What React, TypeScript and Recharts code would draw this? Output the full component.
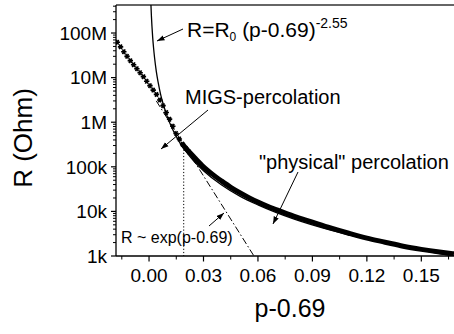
import React from 'react';
import { ComposedChart, Line, Scatter, XAxis, YAxis, ReferenceLine } from 'recharts';

// ---- measured data (x = p-0.69, R in Ohm) ----
const markerP = [-0.0175, -0.0157, -0.0139, -0.0121, -0.0103, -0.0085, -0.0067, -0.0049, -0.0031, -0.0013, 0.0005, 0.0023, 0.0041, 0.0059, 0.0077, 0.0095, 0.0113, 0.0131, 0.0149, 0.0167, 0.0185, 0.0203, 0.0221];
const markerR = [6.2e7, 4.9e7, 3.8e7, 3.0e7, 2.4e7, 1.95e7, 1.58e7, 1.29e7, 1.05e7, 8.3e6, 6.6e6, 5.25e6, 4.2e6, 3.15e6, 2.35e6, 1.65e6, 1.17e6, 8.1e5, 5.6e5, 4.2e5, 3.2e5, 2.6e5, 2.15e5];

const bandP = [0.018, 0.02, 0.025, 0.03, 0.035, 0.04, 0.045, 0.05, 0.055, 0.06, 0.065, 0.07, 0.08, 0.09, 0.1, 0.11, 0.12, 0.13, 0.14, 0.15, 0.16, 0.168];
const bandR = [3.39e5, 2.69e5, 1.62e5, 1.0e5, 6.76e4, 4.79e4, 3.47e4, 2.63e4, 2.04e4, 1.62e4, 1.32e4, 1.1e4, 7.76e3, 5.75e3, 4.27e3, 3.24e3, 2.51e3, 2.04e3, 1.66e3, 1.41e3, 1.23e3, 1.12e3];

// power-law fit R = R0 (p-0.69)^-2.55
const fitP = [0.00105, 0.0013, 0.0016, 0.002, 0.0025, 0.003, 0.004, 0.005, 0.0065, 0.008, 0.01, 0.0125, 0.015, 0.0175, 0.02, 0.025, 0.03, 0.04, 0.05, 0.06, 0.08, 0.1, 0.12, 0.14, 0.168];
const fitR = [4.25e8, 2.45e8, 1.44e8, 8.1e7, 4.6e7, 2.9e7, 1.38e7, 7.9e6, 4.0e6, 2.4e6, 1.35e6, 7.6e5, 4.8e5, 3.2e5, 2.3e5, 1.3e5, 8.2e4, 3.9e4, 2.2e4, 1.4e4, 6.7e3, 3.8e3, 2.4e3, 1.6e3, 1.0e3];

// exponential fit R ~ exp(p-0.69)
const expP = [0.004, 0.0578];
const expR = [3.0e6, 1.0e3];

// crossover marker (dotted)
const critP = [0.0191, 0.0191];
const critR = [3.4e5, 1.0e3];

// ---- axes ----
const X_DOMAIN = [-0.0182, 0.168];
const Y_DOMAIN = [1e3, 4.25e8];
const xMajor = [0, 0.03, 0.06, 0.09, 0.12, 0.15];
const xMajorLabels = ['0.00', '0.03', '0.06', '0.09', '0.12', '0.15'];
const xMinor = [-0.015, 0.015, 0.045, 0.075, 0.105, 0.135, 0.165];
const yMajor = [1e3, 1e4, 1e5, 1e6, 1e7, 1e8];
const yMajorLabels = ['1k', '10k', '100k', '1M', '10M', '100M'];
const yMinorMult = [2, 3, 4, 5, 6, 7, 8, 9];

const yMinor: number[] = [];
yMajor.forEach((d) => yMinorMult.forEach((m) => { if (m * d <= Y_DOMAIN[1]) yMinor.push(m * d); }));
const yTicks = [...yMajor, ...yMinor].sort((a, b) => a - b);
const xTicks = [...xMajor, ...xMinor].sort((a, b) => a - b);

const zip = (p: number[], r: number[]) => p.map((v, i) => ({ v, r: r[i] }));
const markerData = zip(markerP, markerR);
const bandData = zip(bandP, bandR);
const fitData = zip(fitP, fitR);
const expData = zip(expP, expR);
const critData = zip(critP, critR);

const FONT = '"Liberation Sans", Arial, Helvetica, sans-serif';

const YTick = (props: any) => {
  const { x, y, payload } = props;
  const idx = yMajor.indexOf(payload.value);
  if (idx < 0) {
    return <line x1={x} x2={x - 3} y1={y} y2={y} stroke="#000" strokeWidth={1} />;
  }
  return (
    <g>
      <line x1={x} x2={x - 5} y1={y} y2={y} stroke="#000" strokeWidth={1.2} />
      <text x={x - 9} y={y} dy="0.36em" textAnchor="end" fontSize={19} fontFamily={FONT} fill="#000">
        {yMajorLabels[idx]}
      </text>
    </g>
  );
};

const XTick = (props: any) => {
  const { x, y, payload } = props;
  const idx = xMajor.indexOf(payload.value);
  if (idx < 0) {
    return <line x1={x} x2={x} y1={y} y2={y + 3.5} stroke="#000" strokeWidth={1} />;
  }
  return (
    <g>
      <line x1={x} x2={x} y1={y} y2={y + 5.5} stroke="#000" strokeWidth={1.2} />
      <text x={x} y={y + 26} textAnchor="middle" fontSize={19} fontFamily={FONT} fill="#000">
        {xMajorLabels[idx]}
      </text>
    </g>
  );
};

const StarDot = (props: any) => {
  const { cx, cy } = props;
  if (cx == null || cy == null) return null;
  const r = 2.7;
  return (
    <path
      d={`M${cx - r},${cy}L${cx + r},${cy}M${cx - r * 0.5},${cy - r * 0.87}L${cx + r * 0.5},${cy + r * 0.87}M${cx + r * 0.5},${cy - r * 0.87}L${cx - r * 0.5},${cy + r * 0.87}`}
      stroke="#000"
      strokeWidth={1.6}
    />
  );
};

const Arrow = ({ x1, y1, x2, y2 }: { x1: number; y1: number; x2: number; y2: number }) => (
  <line x1={x1} y1={y1} x2={x2} y2={y2} stroke="#000" strokeWidth={1} markerEnd="url(#ah)" />
);

export default function App() {
  return (
    <div style={{ position: 'absolute', left: 0, top: 0, width: 454, height: 334, background: '#fff', overflow: 'hidden' }}>
      <ComposedChart width={454} height={334} margin={{ top: 5, right: 0, bottom: 0, left: 0 }}>
        <XAxis
          type="number"
          dataKey="v"
          domain={X_DOMAIN}
          allowDataOverflow
          ticks={xTicks}
          interval={0}
          tick={<XTick />}
          tickLine={false}
          tickSize={0}
          tickMargin={0}
          height={78}
          axisLine={{ stroke: '#000', strokeWidth: 1.3 }}
        />
        <YAxis
          type="number"
          dataKey="r"
          scale="log"
          domain={Y_DOMAIN}
          allowDataOverflow
          ticks={yTicks}
          interval={0}
          tick={<YTick />}
          tickLine={false}
          tickSize={0}
          tickMargin={0}
          width={116}
          axisLine={{ stroke: '#000', strokeWidth: 1.3 }}
        />
        <ReferenceLine y={Y_DOMAIN[1]} stroke="#333" strokeWidth={1.3} ifOverflow="visible" />
        <Line data={expData} dataKey="r" type="linear" stroke="#000" strokeWidth={1} strokeDasharray="7 2.5 1.5 2.5" dot={false} isAnimationActive={false} />
        <Line data={critData} dataKey="r" type="linear" stroke="#000" strokeWidth={1} strokeDasharray="1.2 2" dot={false} isAnimationActive={false} />
        <Line data={bandData} dataKey="r" type="monotone" stroke="#000" strokeWidth={5} dot={false} isAnimationActive={false} />
        <Line data={fitData} dataKey="r" type="monotone" stroke="#000" strokeWidth={1.3} dot={false} isAnimationActive={false} />
        <Scatter data={markerData} dataKey="r" fill="#000" shape={<StarDot />} isAnimationActive={false} />
      </ComposedChart>
      <svg width={454} height={334} style={{ position: 'absolute', left: 0, top: 0, pointerEvents: 'none' }}>
        <defs>
          <marker id="ah" markerWidth="8" markerHeight="6" refX="7.5" refY="3" orient="auto" markerUnits="userSpaceOnUse">
            <path d="M0,0.3 L7.5,3 L0,5.7 Z" fill="#000" />
          </marker>
        </defs>
        <g fontFamily={FONT} fill="#000">
          <text x={187} y={37} fontSize={21}>
            R=R<tspan fontSize={12} y={41}>0</tspan>
            <tspan y={37}> (p-0.69)</tspan>
            <tspan fontSize={14} y={28}>-2.55</tspan>
          </text>
          <text x={185} y={104} fontSize={20}>MIGS-percolation</text>
          <text x={259} y={168.5} fontSize={20}>"physical" percolation</text>
          <text x={121} y={243} fontSize={16}>R ~ exp(p-0.69)</text>
          <text transform="translate(32,138) rotate(-90)" textAnchor="middle" fontSize={26}>R (Ohm)</text>
          <text x={290} y={317} textAnchor="middle" fontSize={25}>p-0.69</text>
        </g>
        <Arrow x1={183} y1={29} x2={157} y2={41} />
        <Arrow x1={208} y1={110} x2={161} y2={149} />
        <Arrow x1={298} y1={172} x2={273} y2={224} />
        <Arrow x1={209} y1={226} x2={224} y2={213} />
      </svg>
    </div>
  );
}
